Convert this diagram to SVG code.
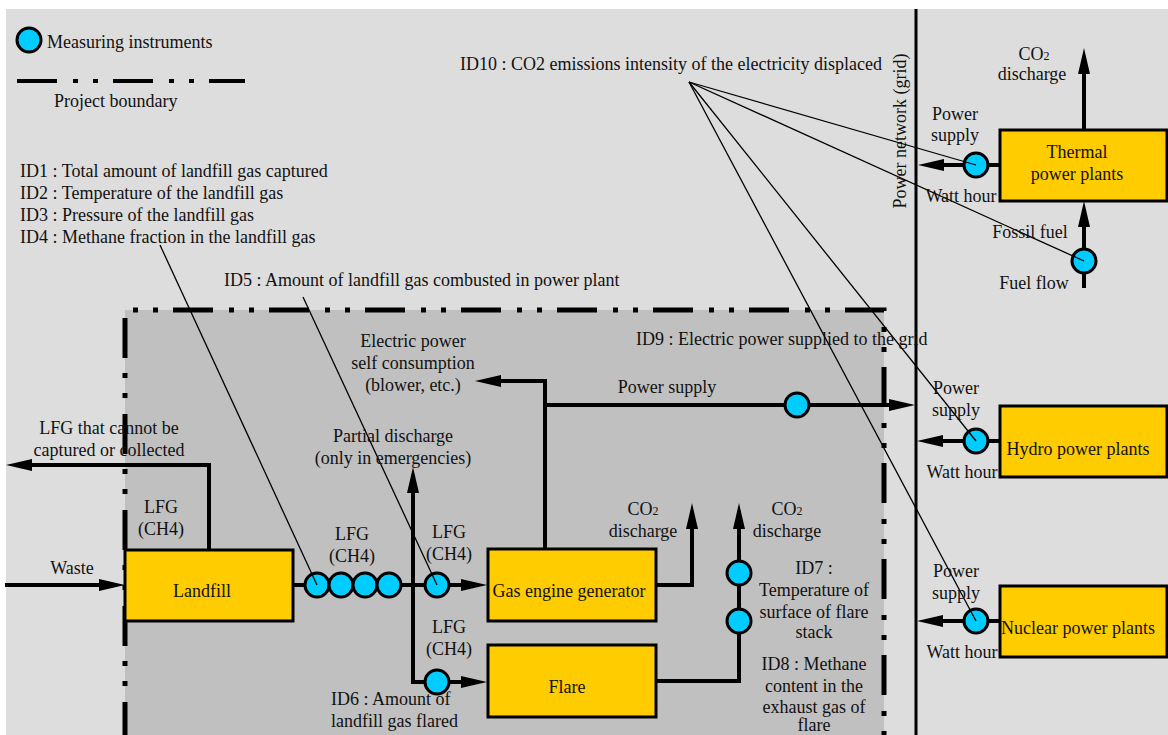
<svg xmlns="http://www.w3.org/2000/svg" width="1168" height="735" viewBox="0 0 1168 735" font-family="'Liberation Serif', 'Times New Roman', serif">
<defs>
<style>
text{font-family:'Liberation Serif','Times New Roman',serif;font-size:18px;fill:#111}
.m{text-anchor:middle}
.box{fill:#ffcc00;stroke:#000;stroke-width:3}
.inst{fill:#00ccff;stroke:#000;stroke-width:3}
.thick{fill:none;stroke:#000;stroke-width:4}
.thin{fill:none;stroke:#000;stroke-width:1.3}
.bnd{fill:none;stroke:#000;stroke-width:5;stroke-dasharray:40 16 5 15 5 15}
.sub{font-size:12px}
</style>
<marker id="ah" markerUnits="userSpaceOnUse" markerWidth="26" markerHeight="12" refX="16" refY="6" orient="auto"><path d="M0,0 L26,6 L0,12 z" fill="#000"/></marker>
</defs>
<rect x="0" y="0" width="1168" height="735" fill="#fff"/>
<rect x="6" y="9" width="1162" height="726" fill="#dddddd"/>
<rect x="125" y="310" width="759" height="425" fill="#c0c0c0"/>
<g id="boundary">
<path class="bnd" d="M125,740 L125,310 L884,310 L884,740" stroke-dashoffset="2"/>
</g>
<g id="legend">
<circle class="inst" cx="29" cy="40" r="12"/>
<text x="47" y="48">Measuring instruments</text>
<path class="bnd" d="M17,81 L245,81" style="stroke-width:4"/>
<text x="54" y="107">Project boundary</text>
</g>
<g id="grid">
<path d="M916,9 V735" stroke="#000" stroke-width="3"/>
<text class="m" transform="translate(906,131) rotate(-90)">Power network (grid)</text>
</g>
<g id="connectors">
<path class="thick" d="M5,585 H115" marker-end="url(#ah)"/>
<path class="thick" d="M209,550 V465 H16" marker-end="url(#ah)"/>
<path class="thick" d="M293,585 H477" marker-end="url(#ah)"/>
<path class="thick" d="M413,682 V477" marker-end="url(#ah)"/>
<path class="thick" d="M413,680 V682 H477" marker-end="url(#ah)"/>
<path class="thick" d="M545,549 V381 H485" marker-end="url(#ah)"/>
<path class="thick" d="M545,405 H905" marker-end="url(#ah)"/>
<path class="thick" d="M656,585 H692 V513" marker-end="url(#ah)"/>
<path class="thick" d="M656,681 H739 V513" marker-end="url(#ah)"/>
<path class="thick" d="M1000,165 H928" marker-end="url(#ah)"/>
<path class="thick" d="M1084,130 V58" marker-end="url(#ah)"/>
<path class="thick" d="M1084,288 V211" marker-end="url(#ah)"/>
<path class="thick" d="M1000,441 H927" marker-end="url(#ah)"/>
<path class="thick" d="M1000,621 H927" marker-end="url(#ah)"/>
</g>
<g id="landfill"><rect class="box" x="125" y="550" width="168" height="71"/><text class="m" x="202" y="597">Landfill</text></g>
<g id="gas-engine"><rect class="box" x="488" y="549" width="168" height="72"/><text class="m" x="569" y="597">Gas engine generator</text></g>
<g id="flare"><rect class="box" x="488" y="645" width="168" height="72"/><text class="m" x="567" y="693">Flare</text></g>
<g id="thermal"><rect class="box" x="1000" y="130" width="167" height="71"/><text class="m" x="1077" y="158">Thermal</text><text class="m" x="1077" y="180">power plants</text></g>
<g id="hydro"><rect class="box" x="1000" y="406" width="167" height="71"/><text class="m" x="1078" y="455">Hydro power plants</text></g>
<g id="nuclear"><rect class="box" x="1000" y="586" width="167" height="71"/><text class="m" x="1078" y="634">Nuclear power plants</text></g>
<g id="instruments">
<circle class="inst" cx="317" cy="585" r="12"/>
<circle class="inst" cx="341" cy="585" r="12"/>
<circle class="inst" cx="365" cy="585" r="12"/>
<circle class="inst" cx="389" cy="585" r="12"/>
<circle class="inst" cx="437" cy="585" r="12"/>
<circle class="inst" cx="437" cy="682" r="12"/>
<circle class="inst" cx="797" cy="405" r="12"/>
<circle class="inst" cx="739" cy="573" r="12"/>
<circle class="inst" cx="739" cy="621" r="12"/>
<circle class="inst" cx="976" cy="165" r="12"/>
<circle class="inst" cx="1084" cy="261" r="12"/>
<circle class="inst" cx="976" cy="441" r="12"/>
<circle class="inst" cx="976" cy="621" r="12"/>
</g>
<g id="leaders">
<path class="thin" d="M160,245 L317,585"/>
<path class="thin" d="M303,297 L437,585"/>
<path class="thin" d="M689,82 L976,165"/>
<path class="thin" d="M689,82 L1084,261"/>
<path class="thin" d="M689,82 L976,441"/>
<path class="thin" d="M689,82 L976,621"/>
</g>
<g id="labels">
<text x="20" y="177">ID1 : Total amount of landfill gas captured</text>
<text x="20" y="199">ID2 : Temperature of the  landfill gas</text>
<text x="20" y="221">ID3 : Pressure of the landfill gas</text>
<text x="20" y="243">ID4 : Methane fraction in the landfill gas</text>
<text x="460" y="70">ID10 : CO2 emissions intensity of the electricity displaced</text>
<text x="224" y="286">ID5 : Amount of landfill gas combusted in power plant</text>
<text x="636" y="345">ID9 : Electric power supplied to the grid</text>
<text class="m" x="413" y="347">Electric power</text>
<text class="m" x="413" y="369">self consumption</text>
<text class="m" x="413" y="391">(blower, etc.)</text>
<text class="m" x="667" y="393">Power supply</text>
<text class="m" x="109" y="434">LFG that cannot be</text>
<text class="m" x="109" y="456">captured or collected</text>
<text class="m" x="393" y="442">Partial discharge</text>
<text class="m" x="393" y="464">(only in emergencies)</text>
<text class="m" x="161" y="513">LFG</text>
<text class="m" x="161" y="535">(CH4)</text>
<text class="m" x="72" y="574">Waste</text>
<text class="m" x="352" y="540">LFG</text>
<text class="m" x="352" y="562">(CH4)</text>
<text class="m" x="449" y="538">LFG</text>
<text class="m" x="449" y="560">(CH4)</text>
<text class="m" x="449" y="633">LFG</text>
<text class="m" x="449" y="655">(CH4)</text>
<text x="331" y="705">ID6 : Amount of</text>
<text x="331" y="727">landfill gas flared</text>
<text class="m" x="643" y="515">CO<tspan class="sub">2</tspan></text>
<text class="m" x="643" y="537">discharge</text>
<text class="m" x="787" y="515">CO<tspan class="sub">2</tspan></text>
<text class="m" x="787" y="537">discharge</text>
<text class="m" x="814" y="574">ID7 :</text>
<text class="m" x="814" y="596">Temperature of</text>
<text class="m" x="814" y="618">surface of flare</text>
<text class="m" x="814" y="638">stack</text>
<text class="m" x="814" y="670">ID8 : Methane</text>
<text class="m" x="814" y="692">content in the</text>
<text class="m" x="814" y="713">exhaust gas of</text>
<text class="m" x="814" y="731">flare</text>
<text class="m" x="1034" y="60">CO<tspan class="sub">2</tspan></text>
<text class="m" x="1032" y="80">discharge</text>
<text class="m" x="955" y="120">Power</text>
<text class="m" x="955" y="141">supply</text>
<text class="m" x="961" y="202">Watt hour</text>
<text class="m" x="1030" y="238">Fossil fuel</text>
<text class="m" x="1034" y="289">Fuel flow</text>
<text class="m" x="956" y="394">Power</text>
<text class="m" x="956" y="416">supply</text>
<text class="m" x="962" y="478">Watt hour</text>
<text class="m" x="956" y="577">Power</text>
<text class="m" x="956" y="599">supply</text>
<text class="m" x="962" y="658">Watt hour</text>
</g>
</svg>
